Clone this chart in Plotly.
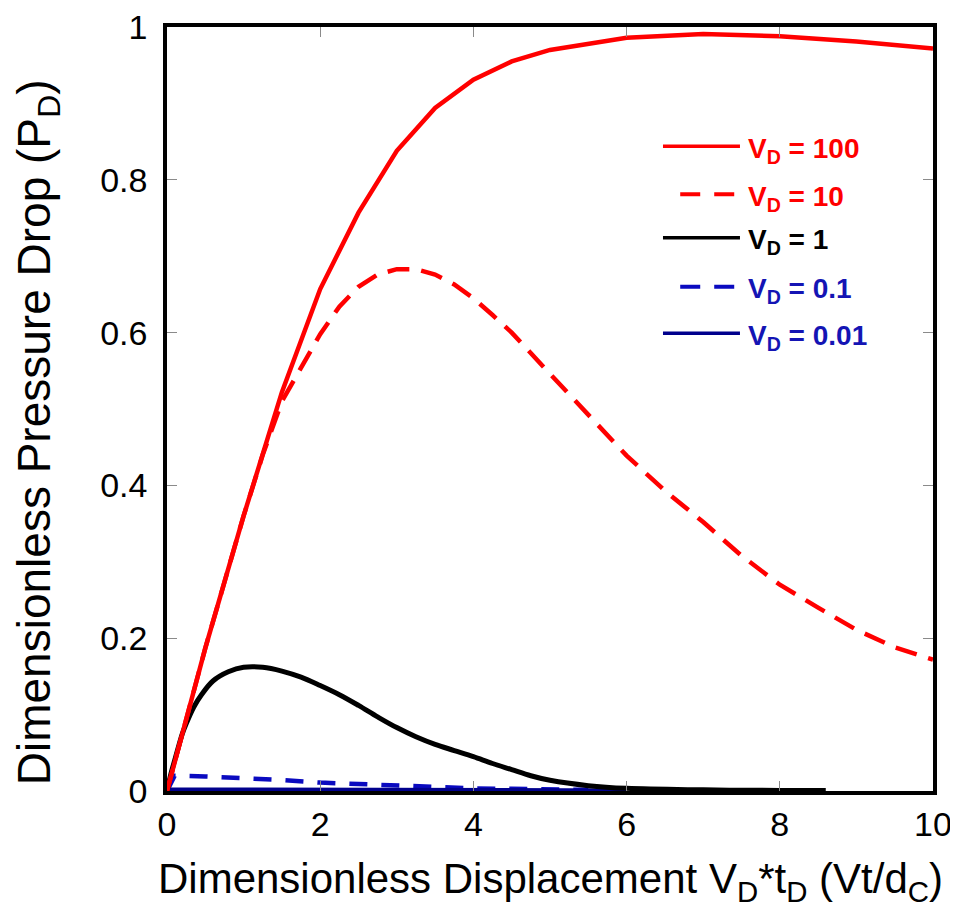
import plotly.graph_objects as go

# ---- data ----
x_vd100 = [0, 0.5, 1.0, 1.5, 2.0, 2.5, 3.0, 3.5, 4.0, 4.5, 5.0, 6.0, 7.0, 8.0, 9.0, 10.0]
y_vd100 = [0, 0.187, 0.36, 0.522, 0.657, 0.757, 0.838, 0.894, 0.931, 0.955, 0.970, 0.986, 0.991, 0.988, 0.981, 0.972]

x_vd10 = [0, 0.5, 1.0, 1.25, 1.5, 1.75, 2.0, 2.25, 2.5, 2.75, 3.0, 3.25, 3.5, 3.75, 4.0, 4.25, 4.5,
          5.0, 5.5, 6.0, 6.5, 7.0, 7.5, 8.0, 8.5, 9.0, 9.5, 10.0]
y_vd10 = [0, 0.187, 0.36, 0.44, 0.51, 0.555, 0.598, 0.634, 0.66, 0.676, 0.683, 0.683, 0.676, 0.663,
          0.645, 0.623, 0.60, 0.546, 0.492, 0.439, 0.393, 0.352, 0.308, 0.270, 0.240, 0.211, 0.188, 0.172]

x_vd1 = [0, 0.05, 0.1, 0.15, 0.2, 0.25, 0.35, 0.45, 0.6, 0.8, 1.0, 1.25, 1.5, 1.75, 2.0, 2.25, 2.5,
         2.75, 3.0, 3.25, 3.5, 3.75, 4.0, 4.25, 4.5, 4.75, 5.0, 5.5, 6.0, 7.0, 8.0, 8.6]
y_vd1 = [0, 0.022, 0.04, 0.058, 0.075, 0.088, 0.11, 0.126, 0.144, 0.156, 0.162, 0.162, 0.157, 0.149,
         0.138, 0.126, 0.112, 0.097, 0.083, 0.071, 0.061, 0.053, 0.045, 0.036, 0.028, 0.020, 0.014,
         0.007, 0.0035, 0.0015, 0.0007, 0.0005]

x_vd01 = [0, 0.1, 0.5, 1.0, 1.5, 2.0, 2.5, 3.0, 3.5, 4.0, 4.5, 5.0, 5.5]
y_vd01 = [0, 0.020, 0.019, 0.017, 0.0145, 0.011, 0.009, 0.007, 0.005, 0.0035, 0.0028, 0.002, 0.0015]

x_vd001 = [0, 0.05, 1.0, 2.0, 3.0, 4.0, 5.0, 6.0]
y_vd001 = [0, 0.002, 0.002, 0.0018, 0.0015, 0.0012, 0.001, 0.0008]

x_ticks = [0, 2, 4, 6, 8, 10]
y_ticks = [0, 0.2, 0.4, 0.6, 0.8, 1]
y_tick_text = ["0", "0.2", "0.4", "0.6", "0.8", "1"]

legend_labels = ["V<sub>D</sub> = 100", "V<sub>D</sub> = 10", "V<sub>D</sub> = 1",
                 "V<sub>D</sub> = 0.1", "V<sub>D</sub> = 0.01"]

x_title = "Dimensionless Displacement V<sub>D</sub>*t<sub>D</sub> (Vt/d<sub>C</sub>)"
y_title = "Dimensionless Pressure Drop (P<sub>D</sub>)"

RED = "#ff0000"
BLACK = "#000000"
BLUE_D = "#0a0ac0"
BLUE_S = "#00008c"
LEG_BLUE = "#1414b4"

FONT = "Arial"

fig = go.Figure()
fig.add_trace(go.Scatter(x=x_vd01, y=y_vd01, mode="lines",
                         line=dict(color=BLUE_D, width=4.5, dash="18px,14px"), showlegend=False))
fig.add_trace(go.Scatter(x=x_vd001, y=y_vd001, mode="lines",
                         line=dict(color=BLUE_S, width=4), showlegend=False))
fig.add_trace(go.Scatter(x=x_vd1, y=y_vd1, mode="lines", line_shape="spline",
                         line=dict(color=BLACK, width=5), showlegend=False))
fig.add_trace(go.Scatter(x=x_vd10, y=y_vd10, mode="lines",
                         line=dict(color=RED, width=4.5, dash="22px,12px"), showlegend=False))
fig.add_trace(go.Scatter(x=x_vd100, y=y_vd100, mode="lines",
                         line=dict(color=RED, width=4.5), showlegend=False))

# ---- manual legend (paper coordinates) ----
leg_rows = [0.844, 0.781, 0.724, 0.660, 0.599]
leg_colors = [RED, RED, BLACK, BLUE_D, BLUE_S]
leg_text_colors = [RED, RED, BLACK, LEG_BLUE, LEG_BLUE]
leg_dashed = [False, True, False, True, False]
for yy, col, tcol, dashed, lab in zip(leg_rows, leg_colors, leg_text_colors, leg_dashed, legend_labels):
    if dashed:
        fig.add_shape(type="line", xref="paper", yref="paper", x0=0.670, x1=0.7415, y0=yy, y1=yy,
                      line=dict(color=col, width=4, dash="20px,14px"))
    else:
        fig.add_shape(type="line", xref="paper", yref="paper", x0=0.6475, x1=0.748, y0=yy, y1=yy,
                      line=dict(color=col, width=3.5))
    fig.add_annotation(xref="paper", yref="paper", x=0.7560, y=yy, xanchor="left", yanchor="middle",
                       text="<b>" + lab + "</b>", showarrow=False, yshift=-4,
                       font=dict(family=FONT, size=28, color=tcol))

# axis titles as annotations for exact placement
fig.add_annotation(xref="paper", yref="paper", x=0.5, y=-0.118, xanchor="center", yanchor="middle",
                   text=x_title, showarrow=False, font=dict(family=FONT, size=42, color="black"))
fig.add_annotation(xref="paper", yref="paper", x=-0.168, y=0.47, xanchor="center", yanchor="middle",
                   text=y_title, textangle=-90, showarrow=False,
                   font=dict(family=FONT, size=46, color="black"))

axis_common = dict(
    showgrid=False, zeroline=False, showline=True, linecolor="black", linewidth=3.5,
    mirror="allticks", ticks="inside", ticklen=10, tickwidth=1, tickcolor="#8a8a8a",
    tickfont=dict(family=FONT, size=34, color="black"), ticklabeloverflow="allow",
)

fig.update_xaxes(range=[0, 10], tickvals=x_ticks, ticktext=[str(v) for v in x_ticks],
                 automargin=False, ticklabelstandoff=0, **axis_common)
fig.update_yaxes(range=[0, 1], tickvals=y_ticks, ticktext=y_tick_text,
                 automargin=False, ticklabelstandoff=9, **axis_common)

# note: the page body adds an 8px offset, compensated in the margins
fig.update_layout(
    width=958, height=911,
    margin=dict(l=159, r=33, t=19, b=128),
    paper_bgcolor="white", plot_bgcolor="white",
    showlegend=False,
)

fig.write_html("out.html")
